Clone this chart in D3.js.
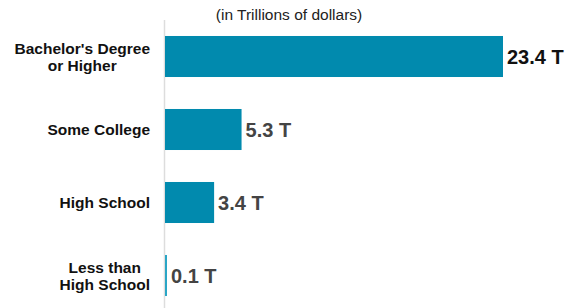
<!DOCTYPE html>
<html>
<head>
<meta charset="utf-8">
<script src="https://cdn.jsdelivr.net/npm/d3@7"></script>
<style>
  body { margin: 0; background: #fff; }
  svg { display: block; font-family: "Liberation Sans", Arial, sans-serif; }
</style>
</head>
<body>
<div class="canvas"></div>
<script>
// data
const categories = [["Bachelor's Degree", "or Higher"], ["Some College"], ["High School"], ["Less than", "High School"]];
const values = [23.4, 5.3, 3.4, 0.1];
const valueLabels = ["23.4 T", "5.3 T", "3.4 T", "0.1 T"];
const subtitle = "(in Trillions of dollars)";

const width = 572;
const height = 308;
const margin = { top: 20, right: 0, bottom: 0, left: 165 };

const svg = d3.select('.canvas')
    .append('svg')
    .attr('width', width)
    .attr('height', height);

// scales
const x = d3.scaleLinear().domain([0, 23.4]).range([margin.left, 503]);
const y = d3.scaleBand()
    .domain(d3.range(values.length))
    .range([margin.top, 312])
    .paddingInner(0.438)
    .paddingOuter(0.219);

// subtitle
svg.append('text')
    .attr('x', 289)
    .attr('y', 19.5)
    .attr('text-anchor', 'middle')
    .attr('font-size', 15.5)
    .attr('fill', '#222')
    .text(subtitle);

// baseline axis
const yAxis = d3.axisLeft(y).tickSize(0).tickFormat('');
const yAxisGroup = svg.append('g')
    .attr('transform', `translate(${margin.left - 0.5},0)`)
    .call(yAxis);
yAxisGroup.select('.domain')
    .attr('d', `M0,${margin.top}V${height}`)
    .attr('stroke', '#ddd')
    .attr('stroke-width', 1.5);

// bars
svg.selectAll('rect.bar')
    .data(values)
    .enter()
    .append('rect')
        .attr('class', 'bar')
        .attr('x', x(0))
        .attr('y', (d, i) => y(i))
        .attr('width', d => Math.max(2, x(d) - x(0)))
        .attr('height', y.bandwidth())
        .attr('fill', (d, i) => d < 1 ? '#2aa6c6' : '#018aae');

// value labels
svg.selectAll('text.value')
    .data(values)
    .enter()
    .append('text')
        .attr('class', 'value')
        .attr('x', d => Math.max(x(d), x(0) + 2) + 4)
        .attr('y', (d, i) => y(i) + y.bandwidth() / 2 + 7)
        .attr('font-size', 20)
        .attr('font-weight', 'bold')
        .attr('fill', (d, i) => i === 0 ? '#111' : '#444')
        .text((d, i) => valueLabels[i]);

// category labels: block right-aligned, lines centred in the block
const labelRight = 150;
const lineGap = 17;
categories.forEach((lines, i) => {
    const cy = y(i) + y.bandwidth() / 2;
    const t = svg.append('text')
        .attr('font-size', 15.5)
        .attr('font-weight', 'bold')
        .attr('fill', '#111')
        .attr('text-anchor', 'middle');
    const spans = lines.map((line, j) => t.append('tspan')
        .attr('y', cy + 5.5 + (j - (lines.length - 1) / 2) * lineGap)
        .text(line));
    const maxW = d3.max(spans, s => s.node().getComputedTextLength());
    spans.forEach(s => s.attr('x', labelRight - maxW / 2));
});
</script>
</body>
</html>
